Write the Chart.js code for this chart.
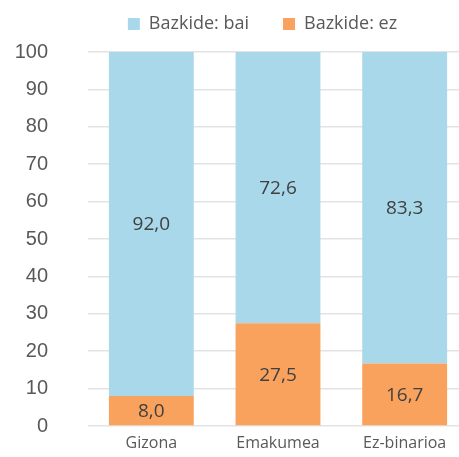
<!DOCTYPE html>
<html>
<head>
<meta charset="utf-8">
<script src="https://cdn.jsdelivr.net/npm/chart.js@4.4.1/dist/chart.umd.min.js"></script>
<style>
	html, body { margin: 0; padding: 0; background: #ffffff; overflow: hidden; }
	#wrap { width: 459px; height: 457px; position: relative; overflow: hidden; }
	#chart { display: block; }
</style>
</head>
<body>
<div id="wrap"><canvas id="chart"></canvas></div>
<script>
const categories = ['Gizona', 'Emakumea', 'Ez-binarioa'];
const baiValues = [92.0, 72.6, 83.3];
const ezValues = [8.0, 27.5, 16.7];
const yTicks = [0, 10, 20, 30, 40, 50, 60, 70, 80, 90, 100];

const textColor = '#595959';

// writes the value in the middle of each bar segment
const barLabels = {
	id: 'barLabels',
	afterDatasetsDraw(chart) {
		const { ctx } = chart;
		ctx.save();
		ctx.font = '19px "Open Sans"';
		ctx.fillStyle = '#404040';
		ctx.textAlign = 'center';
		ctx.textBaseline = 'middle';
		chart.data.datasets.forEach((dataset, di) => {
			chart.getDatasetMeta(di).data.forEach((bar, i) => {
				const top = Math.max(bar.y, chart.chartArea.top);
				const mid = (top + bar.base) / 2 + 1;
				ctx.fillText(dataset.data[i].toFixed(1).replace('.', ','), bar.x, mid);
			});
		});
		ctx.restore();
	},
};

// centre the legend over the plot area, pull it up a little,
// and let the category axis run a bit past the right edge like the original
const layoutTweaks = {
	id: 'layoutTweaks',
	afterLayout(chart) {
		const dx = 27;
		const dy = -9;
		chart.legend.left += dx;
		chart.legend.right += dx;
		chart.legend.top += dy;
		chart.legend.bottom += dy;

		const xScale = chart.scales.x;
		xScale.right += 9;
		xScale.width += 9;
		xScale.configure();
	},
};

new Chart(document.getElementById('chart'), {
	type: 'bar',
	data: {
		labels: categories,
		datasets: [
			{ label: 'Bazkide: ez', data: ezValues, backgroundColor: '#F9A25D' },
			{ label: 'Bazkide: bai', data: baiValues, backgroundColor: '#A9D8EA' },
		],
	},
	options: {
		responsive: true,
		maintainAspectRatio: false,
		animation: false,
		layout: { autoPadding: false, padding: { left: 12, right: 0, top: -10, bottom: 2 } },
		datasets: { bar: { categoryPercentage: 0.67, barPercentage: 1 } },
		plugins: {
			legend: {
				position: 'top',
				reverse: true,
				labels: {
					color: textColor,
					font: { family: '"Open Sans"', size: 18 },
					boxWidth: 12,
					boxHeight: 12,
					padding: 34,
				},
			},
			tooltip: { enabled: false },
		},
		scales: {
			x: {
				stacked: true,
				grid: { display: false, drawTicks: false },
				border: { display: false },
				ticks: { color: textColor, font: { family: '"Open Sans"', size: 16 }, padding: 8 },
				afterFit(scale) {
					scale.height = 29;
					scale.paddingLeft = 0;
					scale.paddingRight = 0;
				},
			},
			y: {
				stacked: true,
				min: 0,
				max: 100,
				afterBuildTicks(scale) {
					scale.ticks = yTicks.map((value) => ({ value }));
				},
				afterFit(scale) {
					scale.width = 76;
					scale.paddingTop = 0;
					scale.paddingBottom = 0;
				},
				grid: { color: '#e3e3e3', lineWidth: 1.5, drawTicks: true, tickLength: 40, tickColor: 'rgba(0,0,0,0)' },
				border: { display: false },
				ticks: { color: textColor, font: { family: '"Liberation Sans"', size: 20 }, padding: 0 },
			},
		},
	},
	plugins: [barLabels, layoutTweaks],
});
</script>
</body>
</html>
